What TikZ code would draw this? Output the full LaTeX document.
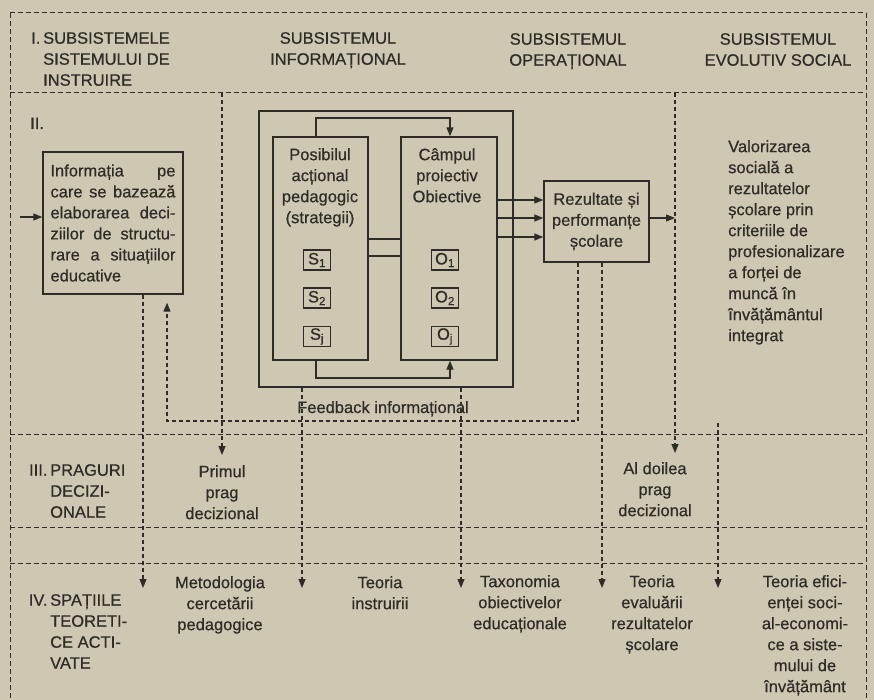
\documentclass[tikz,border=0pt]{standalone}
\usepackage{fontspec}
\setmainfont{Liberation Sans}[FakeBold=0.6]
\usetikzlibrary{arrows.meta}
\definecolor{paper}{RGB}{206,199,177}
\definecolor{ink}{RGB}{46,44,40}
\newcommand{\jline}[1]{\leavevmode\hbox to 125pt{#1}}

\begin{document}
\begin{tikzpicture}[x=1pt,y=-1pt,
  every node/.style={font=\fontsize{16.5}{21}\selectfont, text=ink, inner sep=0pt},
  frame/.style={draw=ink, line width=1pt, dash pattern=on 5pt off 3pt},
  link/.style={draw=ink, line width=1.1pt, dash pattern=on 4pt off 3pt},
  box/.style={draw=ink, line width=1.4pt},
  wire/.style={draw=ink, line width=1.3pt},
  tip/.style={-{Triangle[length=9pt,width=7pt]}},
  ctext/.style={align=center, anchor=north},
  ltext/.style={align=left, anchor=north west},
  idx/.style={box, line width=1.2pt, minimum width=27pt, minimum height=20pt},
]
% paper and page size
\fill[paper] (0,0) rectangle (874,700);
\useasboundingbox (0,0) rectangle (874,700);

% ---- dashed table frame ----
\draw[frame] (10,13) -- (10,700);
\draw[frame] (866,13) -- (866,700);
\foreach \yy in {13,93,434,527,563}
  \draw[frame] (10,\yy) -- (866,\yy);

% ---- header row ----
\node[ltext] (h1) at (43,32) {\llap{I.\,}SUBSISTEMELE\\SISTEMULUI DE\\INSTRUIRE};
\node[ctext] (h2) at (338,32) {SUBSISTEMUL\\INFORMAȚIONAL};
\node[ctext] (h3) at (568,33) {SUBSISTEMUL\\OPERAȚIONAL};
\node[ctext] (h4) at (778,33) {SUBSISTEMUL\\EVOLUTIV SOCIAL};

% ---- row II ----
\node[anchor=base west] (r2) at (30,129) {II.};

\node[box, minimum width=140pt, minimum height=142pt, text width=125pt] (info) at (113,223)
  {\jline{Informația\hfill pe}\\
   \jline{care\hfill se\hfill bazează}\\
   \jline{elaborarea\hfill deci-}\\
   \jline{ziilor\hfill de\hfill structu-}\\
   \jline{rare\hfill a\hfill situațiilor}\\
   educative};

\node[box, minimum width=254pt, minimum height=276pt] (big) at (386,249) {};
\node[box, minimum width=95pt, minimum height=223pt] (strat) at (320.5,248.5) {};
\node[box, minimum width=96pt, minimum height=223pt] (camp) at (449,248.5) {};

\node[ctext] (strattext) at (320,148) {Posibilul\\acțional\\pedagogic\\(strategii)};
\node[ctext] (camptext) at (447,148) {Câmpul\\proiectiv\\Obiective};

\node[idx] (s1) at (317,260) {S\textsubscript{1}};
\node[idx] (s2) at (317,298) {S\textsubscript{2}};
\node[idx] (sj) at (317,336.5) {S\textsubscript{j}};
\node[idx] (o1) at (445,260) {O\textsubscript{1}};
\node[idx] (o2) at (445,298) {O\textsubscript{2}};
\node[idx] (oj) at (445,336.5) {O\textsubscript{j}};

\node[box, minimum width=105pt, minimum height=81pt, align=center] (rez) at (596.5,221.5)
  {Rezultate și\\performanțe\\școlare};

\node[ltext] (valor) at (728,140)
  {Valorizarea\\socială a\\rezultatelor\\școlare prin\\criteriile de\\profesionalizare\\a forței de\\muncă în\\învățământul\\integrat};

\node[anchor=base] (fb) at (383,413) {Feedback informațional};

% loops between the two inner boxes
\coordinate (lt1) at (316,118);
\coordinate (lt2) at (450,118);
\coordinate (lb1) at (316,378);
\coordinate (lb2) at (450,378);
\draw[wire, tip] (strat.north -| lt1) -- (lt1) -- (lt2) -- (camp.north -| lt2);
\draw[wire, tip] (strat.south -| lb1) -- (lb1) -- (lb2) -- (camp.south -| lb2);

% double link between the inner boxes
\foreach \yy in {239,256}
  \draw[wire] (strat.east |- 0,\yy) -- (camp.west |- 0,\yy);

% objectives to results
\foreach \yy in {200,218,237}
  \draw[wire, tip] (camp.east |- 0,\yy) -- (rez.west |- 0,\yy);

% input into the information box
\coordinate (in) at (20,217);
\draw[wire, tip] (in) -- (info.west |- in);

% results to social valorisation column
\coordinate (p2top) at (675,93);
\coordinate (p2tip) at (675,453);
\draw[wire, tip] (rez.east |- 0,218) -- (p2top |- 0,218);

% feedback loop
\coordinate (fbR) at (578,421);
\coordinate (fbL) at (167,421);
\draw[link, tip, shorten >=8pt] (rez.south -| fbR) -- (fbR) -- (fbL) -- (info.south -| fbL);

% ---- row III ----
\node[ltext] (r3) at (50,464) {\llap{III.\,}PRAGURI\\DECIZI-\\ONALE};
\node[ctext] (prag1) at (222,465) {Primul\\prag\\decizional};
\node[ctext] (prag2) at (655,462) {Al doilea\\prag\\decizional};

\coordinate (p1top) at (222,93);
\coordinate (p1tip) at (222,455);
\draw[link, tip] (p1top) -- (p1tip);
\draw[link, tip] (p2top) -- (p2tip);

% ---- row IV ----
\node[ltext] (r4) at (50,594) {\llap{IV.\,}SPAȚIILE\\TEORETI-\\CE ACTI-\\VATE};
\node[ctext] (t1) at (220,576) {Metodologia\\cercetării\\pedagogice};
\node[ctext] (t2) at (380,576) {Teoria\\instruirii};
\node[ctext] (t3) at (520,575) {Taxonomia\\obiectivelor\\educaționale};
\node[ctext] (t4) at (652,575) {Teoria\\evaluării\\rezultatelor\\școlare};
\node[ctext] (t5) at (805,575) {Teoria efici-\\enței soci-\\al-economi-\\ce a siste-\\mului de\\învățământ};

\coordinate (m1) at (143,588);
\coordinate (m2) at (302,588);
\coordinate (m3) at (461,588);
\coordinate (m4) at (602,588);
\coordinate (m5) at (718,588);
\coordinate (v5) at (718,423);

\draw[link, tip] (info.south -| m1) -- (m1);
\draw[link, tip] (big.south -| m2) -- (m2);
\draw[link, tip] (big.south -| m3) -- (m3);
\draw[link, tip] (rez.south -| m4) -- (m4);
\draw[link, tip] (v5) -- (m5);
\end{tikzpicture}
\end{document}
